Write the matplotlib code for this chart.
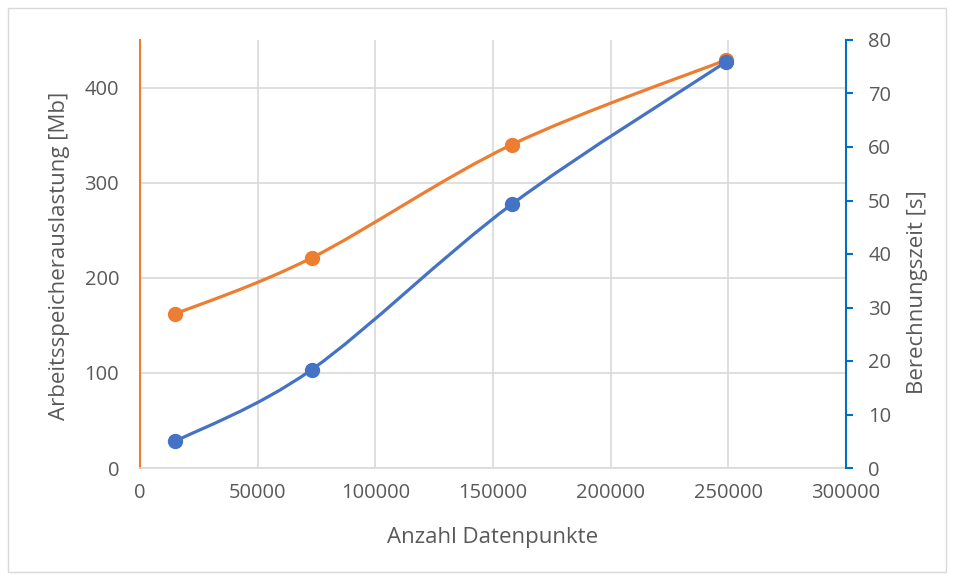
import numpy as np
import matplotlib.pyplot as plt
from matplotlib.path import Path
from matplotlib.patches import PathPatch, Rectangle

# data
punkte = [15000, 73000, 158000, 249000]
speicher_mb = [162, 221, 340, 429]
zeit_s = [5.0, 18.4, 49.3, 75.9]

orange = '#ED7D31'
blau = '#4472C4'
grau = '#595959'

plt.rcParams['font.family'] = ['Open Sans', 'DejaVu Sans']


def smooth_path(ax, xs, ys, color):
    # Excel-style smoothing: cubic bezier segments, catmull-rom control points
    # computed in display space so the curve looks the same as in Excel
    pts = ax.transData.transform(np.column_stack([xs, ys]))
    n = len(pts)
    verts = [pts[0]]
    codes = [Path.MOVETO]
    for i in range(n - 1):
        p0 = pts[i - 1] if i > 0 else pts[i]
        p1 = pts[i]
        p2 = pts[i + 1]
        p3 = pts[i + 2] if i + 2 < n else pts[i + 1]
        c1 = p1 + (p2 - p0) / 6
        c2 = p2 - (p3 - p1) / 6
        verts += [c1, c2, p2]
        codes += [Path.CURVE4] * 3
    verts = ax.transData.inverted().transform(np.array(verts))
    ax.add_patch(PathPatch(Path(verts, codes), fill=False, edgecolor=color,
                           lw=2.3, capstyle='round', joinstyle='round', zorder=3))


fig = plt.figure(figsize=(9.54, 5.8), dpi=100)
ax = fig.add_axes([140 / 954, 1 - 468 / 580, 706 / 954, 428 / 580])
ax2 = ax.twinx()

ax.set_xlim(0, 300000)
ax.set_ylim(0, 450)
ax2.set_ylim(0, 80)
fig.canvas.draw()

smooth_path(ax, punkte, speicher_mb, orange)
ax.plot(punkte, speicher_mb, 'o', color=orange, ms=10, zorder=4)
smooth_path(ax2, punkte, zeit_s, blau)
ax2.plot(punkte, zeit_s, 'o', color=blau, ms=10, zorder=4)

ax.set_xticks(np.arange(0, 300001, 50000))
ax.set_yticks(np.arange(0, 401, 100))
ax2.set_yticks(np.arange(0, 81, 10))
ax.grid(True, color='#D9D9D9', lw=1.2)
ax.set_axisbelow(True)

for a in (ax, ax2):
    a.spines['top'].set_visible(False)
ax.spines['bottom'].set_color('#D9D9D9')
ax.spines['bottom'].set_linewidth(1.2)
ax.spines['left'].set_color(orange)
ax.spines['left'].set_linewidth(1.5)
ax.spines['right'].set_visible(False)
ax2.spines['left'].set_visible(False)
ax2.spines['bottom'].set_visible(False)
ax2.spines['right'].set_color('#0070C0')
ax2.spines['right'].set_linewidth(1.5)

ax.tick_params(axis='x', length=0, labelsize=14.5, labelcolor=grau, pad=11)
ax.tick_params(axis='y', length=0, labelsize=14.5, labelcolor=grau, pad=15)
ax2.tick_params(axis='y', length=5, width=1.5, color='#0070C0', labelsize=14.5,
                labelcolor=grau, pad=11)

ax.set_xlabel('Anzahl Datenpunkte', fontsize=16, color=grau, va='center')
ax.xaxis.set_label_coords(0.5, -70 / 428)
ax.set_ylabel('Arbeitsspeicherauslastung [Mb]', fontsize=16, color=grau, va='center')
ax.yaxis.set_label_coords(-80 / 706, 0.495)
ax2.set_ylabel('Berechnungszeit [s]', fontsize=16, color=grau, va='center')
ax2.yaxis.set_label_coords(778 / 706, 0.41)

fig.patches.append(Rectangle((8 / 954, 8 / 580), 938 / 954, 564 / 580,
                             transform=fig.transFigure, fill=False,
                             edgecolor='#D9D9D9', lw=1))

fig.savefig('out.png', dpi=100)
